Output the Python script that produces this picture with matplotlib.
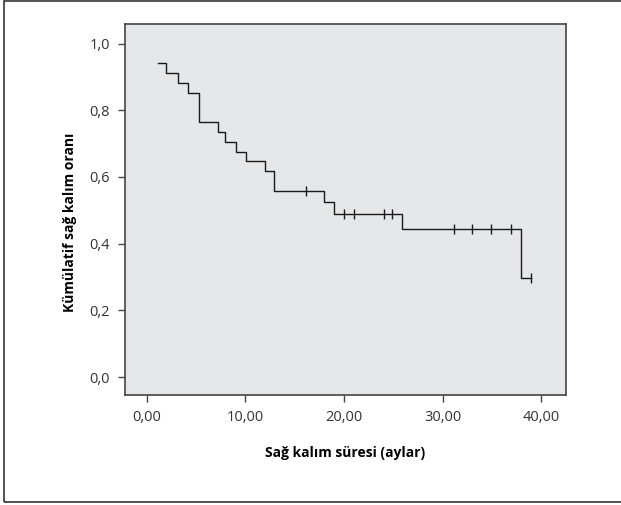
import numpy as np
import matplotlib.pyplot as plt
from matplotlib.patches import Rectangle

# Kaplan-Meier steps
event_times = [1.15, 2.0, 3.2, 4.2, 5.25, 7.2, 7.95, 9.1, 10.1, 12.0, 12.9, 18.0, 19.0, 25.9, 37.9]
survival = [0.941, 0.912, 0.882, 0.853, 0.765, 0.735, 0.706, 0.676, 0.647, 0.618, 0.559, 0.525, 0.490, 0.445, 0.297]
last_time = 39.0

censor_times = [16.1, 20.0, 21.0, 24.1, 24.9, 31.1, 33.0, 34.9, 36.95, 39.0]
censor_surv = [0.559, 0.490, 0.490, 0.490, 0.490, 0.445, 0.445, 0.445, 0.445, 0.297]

x_ticks = [0, 10, 20, 30, 40]
y_ticks = [0.0, 0.2, 0.4, 0.6, 0.8, 1.0]

plt.rcParams['font.family'] = ['Open Sans', 'DejaVu Sans']

fig = plt.figure(figsize=(6.21, 5.05), dpi=100)
ax = fig.add_axes([0.2013, 0.2178, 0.7101, 0.7347])
ax.set_facecolor('#e6e7e8')

# outer frame of the figure
fig.patches.append(Rectangle((0.0064, 0.006), 1.2, 0.992, transform=fig.transFigure,
                             fill=False, edgecolor='#333333', linewidth=1.2))

xs = event_times + [last_time]
ys = survival + [survival[-1]]
ax.step(xs, ys, where='post', color='#1a1a1a', linewidth=1.0)
ax.plot(censor_times, censor_surv, linestyle='none', marker='|', color='#1a1a1a',
        markersize=7, markeredgewidth=1.0)

ax.set_xlim(-2.2, 42.5)
ax.set_ylim(-0.054, 1.059)
ax.set_xticks(x_ticks)
ax.set_xticklabels([f'{v:.2f}'.replace('.', ',') for v in x_ticks])
ax.set_yticks(y_ticks)
ax.set_yticklabels([f'{v:.1f}'.replace('.', ',') for v in y_ticks])

for s in ax.spines.values():
    s.set_color('#444444')
    s.set_linewidth(1.2)
ax.tick_params(direction='out', length=5, width=1.0, color='#444444',
               labelsize=10.5, labelcolor='#333333', pad=6)

ax.set_xlabel('Sağ kalım süresi (aylar)', fontsize=10, fontweight='bold', labelpad=15)
ax.set_ylabel('Kümülatif sağ kalım oranı', fontsize=10, fontweight='bold')
ax.yaxis.set_label_coords(-0.108, 0.465)

fig.savefig('out.png', dpi=100)
